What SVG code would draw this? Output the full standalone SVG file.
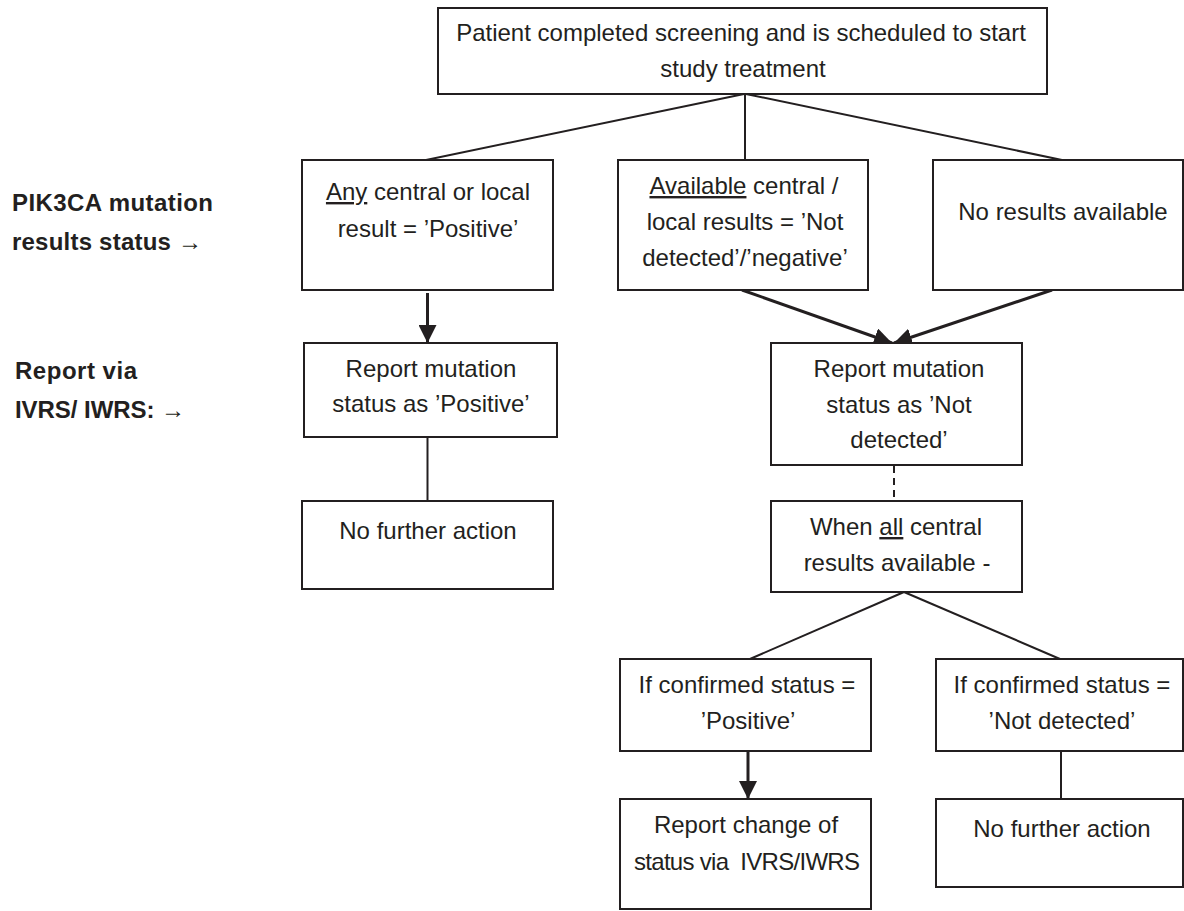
<svg xmlns="http://www.w3.org/2000/svg" width="1184" height="911" viewBox="0 0 1184 911">
<style>
.box{fill:#fff;stroke:#231f20;stroke-width:2}
.t{font-family:"Liberation Sans",Arial,sans-serif;font-size:24px;fill:#231f20;text-anchor:middle}
.lbl{font-family:"Liberation Sans",Arial,sans-serif;font-size:24px;font-weight:bold;fill:#231f20}
.ln{stroke:#231f20;stroke-width:2;fill:none}
.ar{stroke:#231f20;stroke-width:3;fill:none}
.u{text-decoration:underline}
</style>
<defs>
<marker id="ah" markerUnits="userSpaceOnUse" markerWidth="18" markerHeight="18" viewBox="0 0 16 16" refX="16" refY="8" orient="auto">
<path d="M0,0 L16,8 L0,16 Z" fill="#231f20"/>
</marker>
</defs>
<rect width="1184" height="911" fill="#fff"/>

<g id="labels">
<text class="lbl" x="12" y="211" textLength="201">PIK3CA mutation</text>
<text class="lbl" x="12" y="250" textLength="190">results status →</text>
<text class="lbl" x="15" y="379" textLength="122">Report via</text>
<text class="lbl" x="15" y="418" textLength="170">IVRS/ IWRS: →</text>
</g>

<g id="connectors">
<line class="ln" x1="744" y1="94" x2="426" y2="160"/>
<line class="ln" x1="745" y1="94" x2="745" y2="160"/>
<line class="ln" x1="746" y1="94" x2="1062" y2="160"/>
<line class="ar" x1="427.5" y1="293" x2="427.5" y2="343" marker-end="url(#ah)"/>
<line class="ar" x1="742" y1="290" x2="892" y2="343" marker-end="url(#ah)"/>
<line class="ar" x1="1052" y1="290" x2="894" y2="343" marker-end="url(#ah)"/>
<line class="ln" x1="427.5" y1="437" x2="427.5" y2="501"/>
<line class="ln" x1="894" y1="466" x2="894" y2="500" stroke-dasharray="7,5" stroke-width="2.5"/>
<line class="ln" x1="904" y1="592" x2="750" y2="659"/>
<line class="ln" x1="904" y1="592" x2="1060" y2="659"/>
<line class="ar" x1="748" y1="752" x2="748" y2="799" marker-end="url(#ah)"/>
<line class="ln" x1="1061" y1="751" x2="1061" y2="799"/>
</g>

<g id="n-start">
<rect class="box" x="438" y="8" width="609" height="86"/>
<text class="t" x="741" y="41">Patient completed screening and is scheduled to start</text>
<text class="t" x="743" y="77">study treatment</text>
</g>

<g id="n-positive">
<rect class="box" x="302" y="160" width="251" height="130"/>
<text class="t" x="428" y="200"><tspan class="u">Any</tspan> central or local</text>
<text class="t" x="428" y="237">result = ’Positive’</text>
</g>

<g id="n-negative">
<rect class="box" x="618" y="160" width="250" height="130"/>
<text class="t" x="744" y="194"><tspan class="u">Available</tspan> central /</text>
<text class="t" x="745" y="230">local results = ’Not</text>
<text class="t" x="745" y="266">detected’/’negative’</text>
</g>

<g id="n-noresults">
<rect class="box" x="933" y="160" width="250" height="130"/>
<text class="t" x="1063" y="220">No results available</text>
</g>

<g id="n-report-positive">
<rect class="box" x="304" y="343" width="253" height="94"/>
<text class="t" x="431" y="377">Report mutation</text>
<text class="t" x="431" y="412">status as ’Positive’</text>
</g>

<g id="n-nofurther-1">
<rect class="box" x="302" y="501" width="251" height="88"/>
<text class="t" x="428" y="539">No further action</text>
</g>

<g id="n-report-notdetected">
<rect class="box" x="771" y="343" width="251" height="122"/>
<text class="t" x="899" y="377">Report mutation</text>
<text class="t" x="899" y="413">status as ’Not</text>
<text class="t" x="899" y="448">detected’</text>
</g>

<g id="n-when-all">
<rect class="box" x="771" y="501" width="251" height="91"/>
<text class="t" x="896" y="535">When <tspan class="u">all</tspan> central</text>
<text class="t" x="897" y="571">results available -</text>
</g>

<g id="n-confirmed-positive">
<rect class="box" x="620" y="659" width="251" height="92"/>
<text class="t" x="747" y="693">If confirmed status =</text>
<text class="t" x="748" y="729">’Positive’</text>
</g>

<g id="n-report-change">
<rect class="box" x="620" y="799" width="251" height="110"/>
<text class="t" x="746" y="833">Report change of</text>
<text class="t" x="747" y="870" xml:space="preserve" textLength="226">status via  IVRS/IWRS</text>
</g>

<g id="n-confirmed-notdetected">
<rect class="box" x="936" y="659" width="247" height="92"/>
<text class="t" x="1062" y="693">If confirmed status =</text>
<text class="t" x="1062" y="729">’Not detected’</text>
</g>

<g id="n-nofurther-2">
<rect class="box" x="936" y="799" width="247" height="88"/>
<text class="t" x="1062" y="837">No further action</text>
</g>
</svg>
